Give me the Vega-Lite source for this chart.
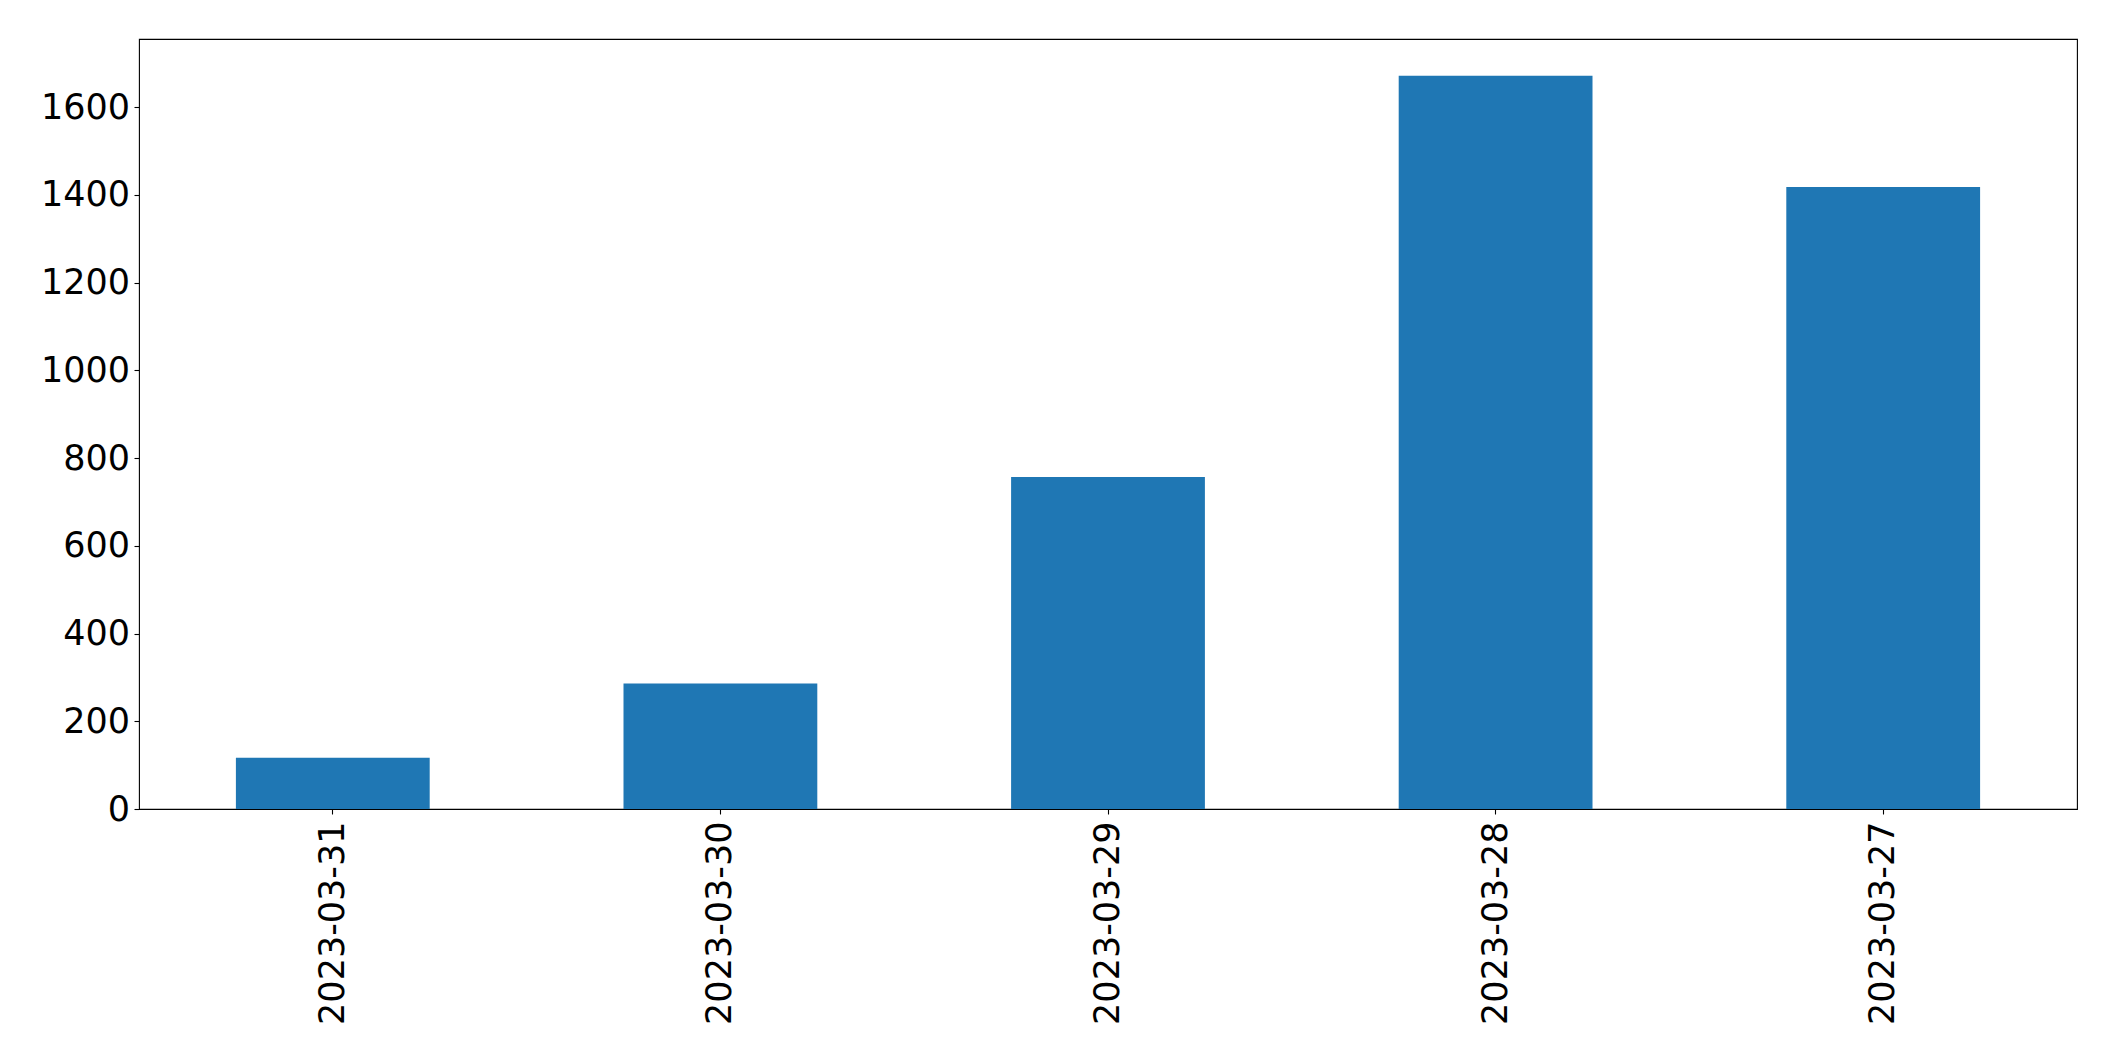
{
  "$schema": "https://vega.github.io/schema/vega-lite/v6.json",
  "width": 1938,
  "height": 770,
  "autosize": {"type": "none"},
  "padding": {"left": 139, "top": 39, "right": 38, "bottom": 252},
  "background": "white",
  "data": {
    "values": [
      {"date": "2023-03-31", "value": 117},
      {"date": "2023-03-30", "value": 286},
      {"date": "2023-03-29", "value": 757},
      {"date": "2023-03-28", "value": 1672},
      {"date": "2023-03-27", "value": 1418}
    ]
  },
  "mark": {"type": "bar", "color": "#1f77b4"},
  "encoding": {
    "x": {
      "field": "date",
      "type": "nominal",
      "sort": null,
      "scale": {"paddingInner": 0.5, "paddingOuter": 0.25},
      "axis": {"title": null, "labelAngle": -90, "labelPadding": 7}
    },
    "y": {
      "field": "value",
      "type": "quantitative",
      "scale": {"domain": [0, 1755.6], "nice": false},
      "axis": {"title": null, "format": "d", "values": [0, 200, 400, 600, 800, 1000, 1200, 1400, 1600], "labelPadding": 4.5}
    }
  },
  "config": {
    "view": {"stroke": "black", "strokeWidth": 1.1},
    "axis": {
      "domain": false,
      "grid": false,
      "ticks": true,
      "tickSize": 5,
      "tickColor": "black",
      "tickWidth": 1.1,
      "labelFont": "DejaVu Sans",
      "labelFontSize": 35,
      "labelColor": "black",
      "labelLimit": 0,
      "labelOverlap": false,
      "labelFlush": false
    }
  }
}
